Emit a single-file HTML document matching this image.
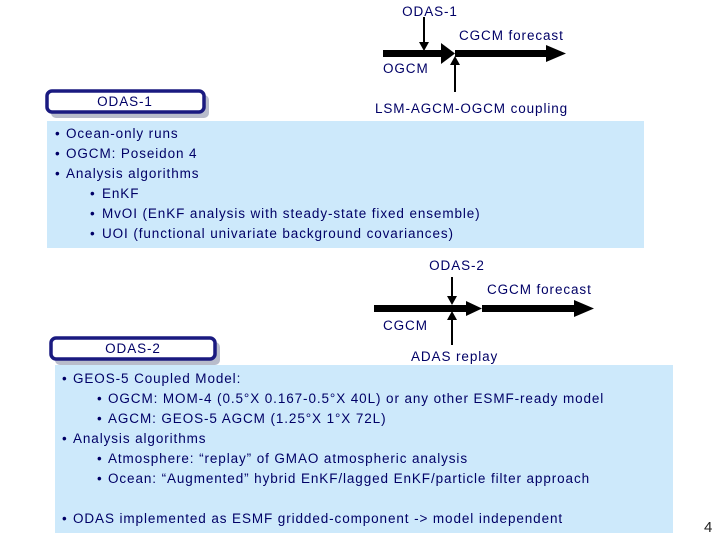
<!DOCTYPE html>
<html><head><meta charset="utf-8"><style>
html,body{margin:0;padding:0;background:#fff;}
svg{display:block;}
text{font-family:"Liberation Sans",sans-serif;fill:#000066;font-size:13.5px;letter-spacing:0.9px;}
</style></head><body>
<svg width="720" height="540" viewBox="0 0 720 540" xmlns="http://www.w3.org/2000/svg">
<text x="430" y="16" text-anchor="middle">ODAS-1</text>
<text x="459" y="40">CGCM forecast</text>
<text x="383" y="73">OGCM</text>
<text x="375" y="113">LSM-AGCM-OGCM coupling</text>
<rect x="383" y="50" width="60" height="7" fill="#000"/>
<polygon points="441,43 455,53.5 441,64" fill="#000"/>
<rect x="455" y="50" width="92" height="7" fill="#000"/>
<polygon points="546,45 566,53.5 546,62" fill="#000"/>
<line x1="424" y1="17" x2="424" y2="44" stroke="#000" stroke-width="2"/>
<polygon points="419,42 429,42 424,51" fill="#000"/>
<line x1="455" y1="92" x2="455" y2="63" stroke="#000" stroke-width="2"/>
<polygon points="450,65 460,65 455,56" fill="#000"/>
<rect x="51" y="95" width="158" height="23" rx="5" fill="#b8bccb"/>
<rect x="47" y="91" width="157" height="21" rx="5" fill="#fff" stroke="#1a1a80" stroke-width="3.5"/>
<text x="125" y="106" text-anchor="middle">ODAS-1</text>
<rect x="47" y="121" width="597" height="127" fill="#cde9fb"/>
<g>
<text x="55" y="138">•</text><text x="66" y="138">Ocean-only runs</text>
<text x="55" y="158">•</text><text x="66" y="158">OGCM: Poseidon 4</text>
<text x="55" y="178">•</text><text x="66" y="178">Analysis algorithms</text>
<text x="90" y="198">•</text><text x="102" y="198">EnKF</text>
<text x="90" y="218">•</text><text x="102" y="218">MvOI (EnKF analysis with steady-state fixed ensemble)</text>
<text x="90" y="238">•</text><text x="102" y="238">UOI (functional univariate background covariances)</text>
</g>
<text x="457" y="270" text-anchor="middle">ODAS-2</text>
<text x="487" y="294">CGCM forecast</text>
<text x="383" y="330">CGCM</text>
<text x="411" y="361">ADAS replay</text>
<rect x="374" y="305" width="94" height="7" fill="#000"/>
<polygon points="466,301 482,308.5 466,316" fill="#000"/>
<rect x="482" y="305" width="94" height="7" fill="#000"/>
<polygon points="574,300 594,308.5 574,317" fill="#000"/>
<line x1="452" y1="277" x2="452" y2="298" stroke="#000" stroke-width="2"/>
<polygon points="447,296 457,296 452,305" fill="#000"/>
<line x1="452" y1="345" x2="452" y2="318" stroke="#000" stroke-width="2"/>
<polygon points="447,320 457,320 452,311" fill="#000"/>
<rect x="55" y="342" width="165" height="23" rx="5" fill="#b8bccb"/>
<rect x="51" y="338" width="164" height="21" rx="5" fill="#fff" stroke="#1a1a80" stroke-width="3.5"/>
<text x="133" y="353" text-anchor="middle">ODAS-2</text>
<rect x="55" y="365" width="618" height="168" fill="#cde9fb"/>
<g>
<text x="62" y="383">•</text><text x="73" y="383">GEOS-5 Coupled Model:</text>
<text x="97" y="403">•</text><text x="108" y="403">OGCM: MOM-4 (0.5°X 0.167-0.5°X 40L) or any other ESMF-ready model</text>
<text x="97" y="423">•</text><text x="108" y="423">AGCM: GEOS-5 AGCM (1.25°X 1°X 72L)</text>
<text x="62" y="443">•</text><text x="73" y="443">Analysis algorithms</text>
<text x="97" y="463">•</text><text x="108" y="463">Atmosphere: “replay” of GMAO atmospheric analysis</text>
<text x="97" y="483">•</text><text x="108" y="483">Ocean: “Augmented” hybrid EnKF/lagged EnKF/particle filter approach</text>
<text x="62" y="523">•</text><text x="73" y="523">ODAS implemented as ESMF gridded-component -&gt; model independent</text>
</g>
<text x="704" y="532" style="fill:#222;font-size:15px;letter-spacing:0">4</text>
</svg>
</body></html>
